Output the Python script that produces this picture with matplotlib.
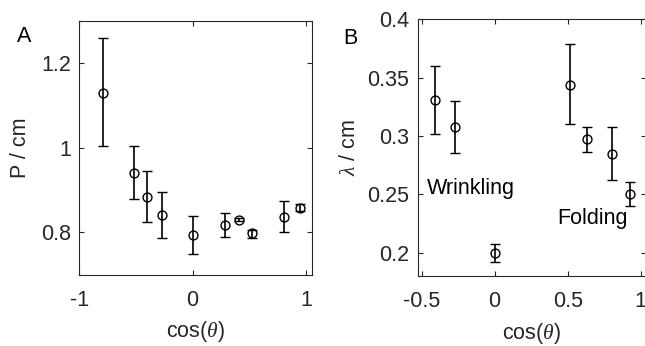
import matplotlib
matplotlib.use('Agg')
import matplotlib.pyplot as plt

plt.rcParams['font.family'] = ['Liberation Sans', 'DejaVu Sans']
plt.rcParams['mathtext.fontset'] = 'custom'
plt.rcParams['mathtext.it'] = 'Liberation Serif:italic'
plt.rcParams['mathtext.rm'] = 'Liberation Sans'
plt.rcParams['mathtext.default'] = 'it'

# Panel A data
a_x = [-0.794, -0.515, -0.406, -0.268, 0.0, 0.282, 0.411, 0.525, 0.804, 0.944]
a_y = [1.130, 0.941, 0.884, 0.841, 0.794, 0.817, 0.830, 0.798, 0.837, 0.858]
a_lo = [1.004, 0.880, 0.824, 0.787, 0.749, 0.789, 0.826, 0.786, 0.800, 0.851]
a_hi = [1.258, 1.003, 0.945, 0.895, 0.839, 0.845, 0.835, 0.806, 0.873, 0.866]

# Panel B data
b_x = [-0.409, -0.27, 0.0, 0.516, 0.632, 0.801, 0.927]
b_y = [0.331, 0.3075, 0.1995, 0.344, 0.297, 0.2846, 0.2505]
b_lo = [0.3015, 0.2855, 0.192, 0.310, 0.2862, 0.2623, 0.2398]
b_hi = [0.360, 0.330, 0.207, 0.3786, 0.3077, 0.3075, 0.2605]

a_xticks = [-1, 0, 1]
a_xticklabels = ['-1', '0', '1']
a_yticks = [0.8, 1.0, 1.2]
a_yticklabels = ['0.8', '1', '1.2']
b_xticks = [-0.5, 0, 0.5, 1]
b_xticklabels = ['-0.5', '0', '0.5', '1']
b_yticks = [0.2, 0.25, 0.3, 0.35, 0.4]
b_yticklabels = ['0.2', '0.25', '0.3', '0.35', '0.4']

W, H = 645, 346
fig = plt.figure(figsize=(W / 100, H / 100), dpi=100)

axc = '#262626'
fs = 15.5


def style(ax):
    for s in ax.spines.values():
        s.set_color(axc)
        s.set_linewidth(0.8)
    ax.tick_params(direction='in', length=3.5, width=0.8, color=axc,
                   labelcolor=axc, labelsize=fs, top=True, right=True)
    ax.tick_params(axis='x', pad=11)
    ax.tick_params(axis='y', pad=6)


def ebar(ax, x, y, lo, hi):
    yerr = [[yy - l for yy, l in zip(y, lo)], [h - yy for yy, h in zip(y, hi)]]
    ax.errorbar(x, y, yerr=yerr, fmt='o', mfc='none', mec='black', ms=6.4,
                mew=1.0, ecolor='black', elinewidth=1.2, capsize=3.8,
                capthick=1.2, color='black')


axA = fig.add_axes([79.3 / W, 1 - 274.7 / H, (312.0 - 79.3) / W, (274.7 - 20.7) / H])
ebar(axA, a_x, a_y, a_lo, a_hi)
axA.set_xlim(-1, 1.053)
axA.set_ylim(0.7, 1.3)
axA.set_xticks(a_xticks)
axA.set_xticklabels(a_xticklabels)
axA.set_yticks(a_yticks)
axA.set_yticklabels(a_yticklabels)
style(axA)
axA.set_xlabel(r'cos($\theta$)', fontsize=fs, color=axc, labelpad=6)
axA.set_ylabel('P / cm', fontsize=fs, color=axc, labelpad=7)

axB = fig.add_axes([417.7 / W, 1 - 276.0 / H, (645.5 - 417.7) / W, (276.0 - 19.3) / H])
ebar(axB, b_x, b_y, b_lo, b_hi)
axB.set_xlim(-0.527, 1.033)
axB.set_ylim(0.18, 0.4)
axB.set_xticks(b_xticks)
axB.set_xticklabels(b_xticklabels)
axB.set_yticks(b_yticks)
axB.set_yticklabels(b_yticklabels)
style(axB)
axB.set_xlabel(r'cos($\theta$)', fontsize=fs, color=axc, labelpad=6)
axB.set_ylabel(r'$\lambda$ / cm', fontsize=fs, color=axc, labelpad=5)

axB.text(-0.466, 0.25, 'Wrinkling', fontsize=fs, color='black', va='baseline', ha='left')
axB.text(0.429, 0.2245, 'Folding', fontsize=fs, color='black', va='baseline', ha='left')

fig.text(16.7 / W, 1 - 37 / H, 'A', fontsize=fs, color='black', va='center', ha='left')
fig.text(343 / W, 1 - 38 / H, 'B', fontsize=fs, color='black', va='center', ha='left')

fig.savefig('out.png', dpi=100)
